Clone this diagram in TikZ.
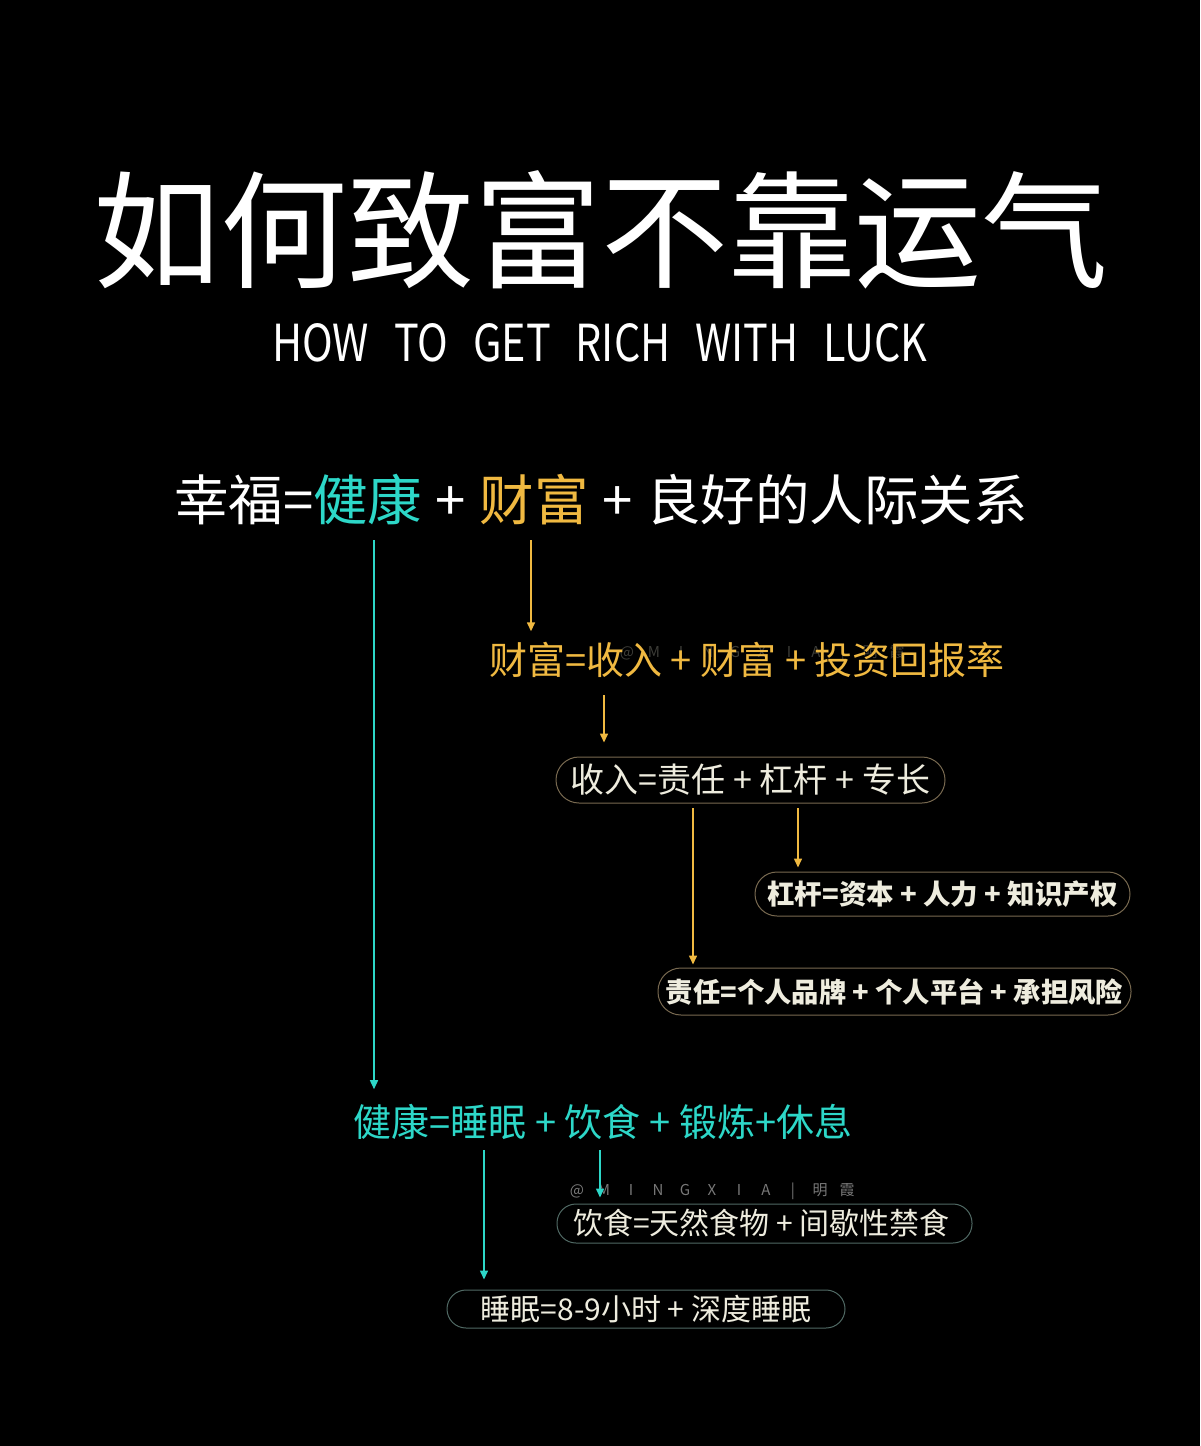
\documentclass[tikz,border=0pt]{standalone}
\usepackage{fontspec}
\newfontfamily\cjk{Noto Sans CJK SC}
\usetikzlibrary{arrows.meta,calc}
\definecolor{cyanc}{RGB}{45,215,200}
\definecolor{goldc}{RGB}{240,185,65}
\definecolor{cream}{RGB}{238,236,222}
\definecolor{goldline}{RGB}{120,105,80}
\definecolor{tealline}{RGB}{80,105,100}
\definecolor{wmgray}{RGB}{120,120,120}
\definecolor{wmdark}{RGB}{60,60,55}
\newcommand\fsz[1]{\fontsize{#1}{#1}\selectfont}
\newcommand\wmk[1]{\makebox[27pt]{#1}}
\newcommand\wmline{\wmk{@}\wmk{M}\wmk{I}\wmk{N}\wmk{G}\wmk{X}\wmk{I}\wmk{A}\wmk{|}\wmk{明}\wmk{霞}}
\newcommand\pgap{\kern0.25em\relax}
\begin{document}
\begin{tikzpicture}[x=1pt,y=-1pt,
  txt/.style={inner sep=0pt, outer sep=0pt},
  pill/.style={draw, line width=1pt, inner sep=0pt, text=cream},
  carr/.style={draw=cyanc, line width=1.5pt, -{Triangle[length=9pt,width=8pt]}, color=cyanc},
  garr/.style={draw=goldc, line width=1.5pt, -{Triangle[length=9pt,width=8pt]}, color=goldc}]
\fill[black] (0,0) rectangle (1200,1446);
\useasboundingbox (0,0) rectangle (1200,1446);

% title
\node[txt, text=white, font=\cjk\fsz{127}] (title) at (601,230) {如何致富不靠运气};
\node[txt, text=white, font=\cjk] (sub) at (600,343) {\resizebox{655pt}{38pt}{HOW\hspace{0.6em}TO\hspace{0.6em}GET\hspace{0.6em}RICH\hspace{0.6em}WITH\hspace{0.6em}LUCK}};

% line 1
\begin{scope}[font=\cjk\fsz{54.5}]
\node[txt, text=white, anchor=west] (l1a) at (174,500) {幸福=};
\node[txt, text=cyanc, anchor=base west] (jk) at (l1a.base east) {健康};
\node[txt, text=white, anchor=base west] (p1) at (jk.base east) {\pgap+\pgap};
\node[txt, text=goldc, anchor=base west] (fc) at (p1.base east) {财富};
\node[txt, text=white, anchor=base west] (l1b) at (fc.base east) {\pgap+\pgap{}良好的人际关系};
\end{scope}

% watermarks
\node[txt, text=wmdark, font=\cjk\fsz{15}] (wm0) at (762,653) {\wmline};
\node[txt, text=wmgray, font=\cjk\fsz{15}] (wm1) at (712,1191) {\wmline};

% wealth line
\node[txt, text=goldc, font=\cjk\fsz{38}] (cf) at (747,660) {财富=收入 + 财富 + 投资回报率};

% boxes
\node[pill, draw=goldline, rounded corners=23pt, minimum width=389pt, minimum height=46pt, font=\cjk\fsz{34}] (b1) at (750.5,780) {收入=责任 + 杠杆 + 专长};
\node[pill, draw=goldline, rounded corners=22pt, minimum width=375pt, minimum height=44pt, font=\cjk\bfseries\fsz{27.5}] (b2) at (942.5,894) {杠杆=资本 + 人力 + 知识产权};
\node[pill, draw=goldline, rounded corners=23pt, minimum width=473pt, minimum height=47pt, font=\cjk\bfseries\fsz{27.3}] (b3) at (894.5,991.5) {责任=个人品牌 + 个人平台 + 承担风险};

% health line
\node[txt, text=cyanc, font=\cjk\fsz{38}] (hl) at (603,1122) {健康=睡眠 + 饮食 + 锻炼+休息};

\node[pill, draw=tealline, rounded corners=19pt, minimum width=415pt, minimum height=39pt, font=\cjk\fsz{30}] (b4) at (764.5,1223.5) {\kern-6pt 饮食=天然食物 + 间歇性禁食};
\node[pill, draw=tealline, rounded corners=19pt, minimum width=398pt, minimum height=38pt, font=\cjk\fsz{30}] (b5) at (646,1309) {睡眠=8-9小时 + 深度睡眠};

% arrows
\coordinate (sA) at (374,540);
\coordinate (sB) at (531,540);
\coordinate (sC) at (604,695);
\coordinate (sD) at (693,808);
\coordinate (sE) at (798,808);
\coordinate (sF) at (484,1150);
\coordinate (sG) at (600,1150);
\draw[carr, shorten >=15pt] (sA) -- (sA |- hl.north);
\draw[garr, shorten >=11pt] (sB) -- (sB |- cf.north);
\draw[garr, shorten >=14pt] (sC) -- (sC |- b1.north);
\draw[garr, shorten >=3pt] (sD) -- (sD |- b3.north);
\draw[garr, shorten >=4pt] (sE) -- (sE |- b2.north);
\draw[carr, shorten >=10pt] (sF) -- (sF |- b5.north);
\draw[carr, shorten >=6pt] (sG) -- (sG |- b4.north);
\end{tikzpicture}
\end{document}
